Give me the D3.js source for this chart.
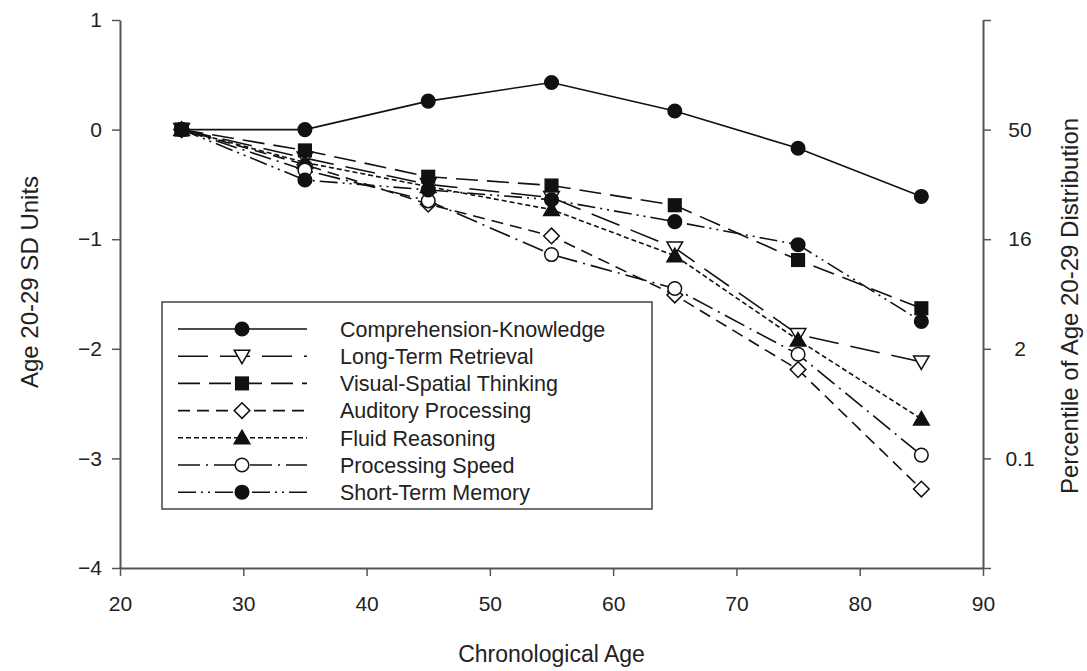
<!DOCTYPE html>
<html><head><meta charset="utf-8">
<script src="https://cdn.jsdelivr.net/npm/d3@7"></script>
<style>
html,body{margin:0;padding:0;background:#fff;}
text{font-family:"Liberation Sans",Arial,sans-serif;fill:#222;}
</style></head>
<body><svg id="c" width="1087" height="671"></svg>
<script>
const ages = [25, 35, 45, 55, 65, 75, 85];
const seriesNames = ["Comprehension-Knowledge","Long-Term Retrieval","Visual-Spatial Thinking","Auditory Processing","Fluid Reasoning","Processing Speed","Short-Term Memory"];
const gcValues  = [0, 0, 0.26, 0.43, 0.17, -0.17, -0.61];
const glrValues = [0, -0.26, -0.50, -0.62, -1.08, -1.87, -2.12];
const gvValues  = [0, -0.19, -0.43, -0.51, -0.69, -1.19, -1.63];
const gaValues  = [0, -0.32, -0.68, -0.97, -1.51, -2.19, -3.28];
const gfValues  = [0, -0.30, -0.52, -0.73, -1.15, -1.92, -2.64];
const gsValues  = [0, -0.37, -0.65, -1.14, -1.45, -2.05, -2.97];
const gsmValues = [0, -0.46, -0.55, -0.64, -0.84, -1.05, -1.75];
const xTicks = [20, 30, 40, 50, 60, 70, 80, 90];
const yTicks = [1, 0, -1, -2, -3, -4];
const rightTickValues = [0, -1, -2, -3];
const rightTickLabels = ["50", "16", "2", "0.1"];

const allValues = [gcValues, glrValues, gvValues, gaValues, gfValues, gsValues, gsmValues];
const dashes = [null, "30,12", "22,9", "12,7", "5,3", "22,6,2,6", "18,5,2,5,2,5"];
const markers = ["circle","triDown","square","diamond","triUp","circle","circle"];
const fills = ["#111","#fff","#111","#fff","#111","#fff","#111"];

const svg = d3.select("#c");
const L = 120, R = 983, T = 20, B = 568;
const x = d3.scaleLinear().domain([20, 90]).range([L, R]);
const y = d3.scaleLinear().domain([-4, 1]).range([B, T]);
const axisColor = "#555";

function styleAxis(g){
  g.selectAll(".domain").attr("stroke", axisColor).attr("stroke-width", 2);
  g.selectAll(".tick line").attr("stroke", axisColor).attr("stroke-width", 1.5);
  g.selectAll(".tick text").attr("font-size", 21).attr("fill", "#222").attr("font-family", '"Liberation Sans",Arial,sans-serif');
}
const gx = svg.append("g").attr("transform", `translate(0,${B})`)
  .call(d3.axisBottom(x).tickValues(xTicks).tickSize(8).tickSizeOuter(0).tickPadding(20).tickFormat(d3.format("d")));
styleAxis(gx);
const gy = svg.append("g").attr("transform", `translate(${L},0)`)
  .call(d3.axisLeft(y).tickValues(yTicks).tickSize(8).tickSizeOuter(0).tickPadding(10).tickFormat(d3.format("d")));
styleAxis(gy);
const gr = svg.append("g").attr("transform", `translate(${R},0)`)
  .call(d3.axisRight(y).tickValues(yTicks).tickSize(8).tickSizeOuter(0).tickPadding(8)
    .tickFormat(d => { const i = rightTickValues.indexOf(d); return i >= 0 ? rightTickLabels[i] : ""; }));
styleAxis(gr);
gr.selectAll(".tick text").attr("text-anchor", "middle").attr("x", 37);

svg.append("text").attr("x", (L + R) / 2).attr("y", 662).attr("text-anchor", "middle")
  .attr("font-size", 23).text("Chronological Age");
svg.append("text").attr("transform", `translate(38,${(T + B) / 2 - 12}) rotate(-90)`).attr("text-anchor", "middle")
  .attr("font-size", 24).text("Age 20-29 SD Units");
svg.append("text").attr("transform", `translate(1078,${(T + B) / 2 + 12}) rotate(-90)`).attr("text-anchor", "middle")
  .attr("font-size", 24).text("Percentile of Age 20-29 Distribution");

function drawMarker(g, type, cx, cy, fill){
  const s = 1.5;
  if (type === "circle") g.append("circle").attr("cx", cx).attr("cy", cy).attr("r", 6.8);
  else if (type === "square") g.append("rect").attr("x", cx - 6.3).attr("y", cy - 6.3).attr("width", 12.6).attr("height", 12.6);
  else if (type === "diamond") g.append("path").attr("d", `M${cx},${cy-7.8}L${cx+7.8},${cy}L${cx},${cy+7.8}L${cx-7.8},${cy}Z`);
  else if (type === "triUp") g.append("path").attr("d", `M${cx},${cy-7.5}L${cx+7.8},${cy+6}L${cx-7.8},${cy+6}Z`);
  else if (type === "triDown") g.append("path").attr("d", `M${cx},${cy+7.5}L${cx+7.8},${cy-6}L${cx-7.8},${cy-6}Z`);
  g.selectAll("*").attr("fill", fill).attr("stroke", "#111").attr("stroke-width", s);
}

const line = d3.line().x((d, i) => x(ages[i])).y(d => y(d));
const plot = svg.append("g");
allValues.forEach((vals, k) => {
  plot.append("path").attr("d", line(vals)).attr("fill", "none").attr("stroke", "#111")
    .attr("stroke-width", 1.6).attr("stroke-dasharray", dashes[k]);
});
allValues.forEach((vals, k) => {
  vals.forEach((v, i) => drawMarker(plot.append("g"), markers[k], x(ages[i]), y(v), fills[k]));
});

// legend
const lg = svg.append("g");
lg.append("rect").attr("x", 162).attr("y", 302).attr("width", 490).attr("height", 207)
  .attr("fill", "#fff").attr("stroke", "#444").attr("stroke-width", 1.5);
seriesNames.forEach((name, k) => {
  const ly = 329 + k * 27.2;
  lg.append("line").attr("x1", 178).attr("x2", 307).attr("y1", ly).attr("y2", ly)
    .attr("stroke", "#111").attr("stroke-width", 1.6).attr("stroke-dasharray", dashes[k]);
  drawMarker(lg.append("g"), markers[k], 242, ly, fills[k]);
  lg.append("text").attr("x", 340).attr("y", ly).attr("dy", "0.36em").attr("font-size", 21.5).text(name);
});
</script></body></html>
